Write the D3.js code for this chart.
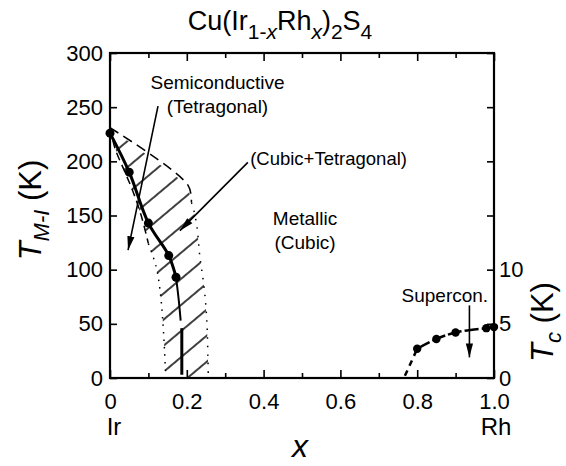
<!DOCTYPE html>
<html>
<head>
<meta charset="utf-8">
<script src="https://cdn.jsdelivr.net/npm/d3@7"></script>
<style>
  html, body { margin: 0; padding: 0; background: #fff; }
  svg text { font-family: Arial, "Liberation Sans", Helvetica, sans-serif; fill: #000; }
</style>
</head>
<body>
<svg id="chart" width="566" height="466"></svg>
<script>
// ---------------- data ----------------
const xMajorTicks = [0, 0.2, 0.4, 0.6, 0.8, 1.0];
const xTickLabels = ["0", "0.2", "0.4", "0.6", "0.8", "1.0"];
const xMinorTicks = [0.1, 0.3, 0.5, 0.7, 0.9];
const tmiTicks = [0, 50, 100, 150, 200, 250, 300];
const tcTicks = [0, 5, 10, 15, 20, 25, 30];
const tcTickLabels = [0, 5, 10];

// Metal-insulator transition temperature T_M-I (K)
const tmiX = [0, 0.05, 0.10, 0.153, 0.172];
const tmiT = [226, 190, 143, 113, 93];
const tmiTailX = [0.172, 0.179, 0.184];
const tmiTailT = [93, 72, 53];
const tmiDropX = [0.187, 0.187];
const tmiDropT = [46, 3];

// superconducting Tc (K)
const tcX = [0.80, 0.85, 0.90, 0.98, 1.00];
const tcT = [2.7, 3.6, 4.2, 4.6, 4.7];
const tcExtX = [0.768, 0.786, 0.80];
const tcExtT = [0.2, 1.6, 2.7];

// two-phase (Cubic+Tetragonal) region boundaries
const leftDashX = [0, 0.013, 0.039, 0.06, 0.082, 0.10];
const leftDashT = [231, 212, 190, 172, 149, 124];
const leftDotX = [0.10, 0.12, 0.13, 0.137, 0.142, 0.145];
const leftDotT = [124, 103, 82, 55, 25, 0];
const topDashX = [0, 0.203, 0.212];
const topDashT = [231, 178, 162];
const rightDotX = [0.212, 0.216, 0.226, 0.234, 0.245, 0.252, 0.255, 0.256];
const rightDotT = [162, 158, 141, 112, 84, 54, 19, 0];

// annotations (data coordinates)
const semiLabel = {x: 0.28, t1: 267, t2: 245};
const semiArrow = {x1: 0.125, t1: 251, x2: 0.047, t2: 118};
const mixLabel = {x: 0.365, t: 197};
const mixArrow = {x1: 0.359, t1: 199, x2: 0.182, t2: 136};
const metLabel = {x: 0.508, t1: 141, t2: 119};
const supLabel = {x: 0.872, tc: 7.0};
const supArrow = {x: 0.936, tc1: 6.7, tc2: 1.9};

// ---------------- scales ----------------
const svg = d3.select("#chart");
const x = d3.scaleLinear().domain([0, 1]).range([110, 494]);
const y = d3.scaleLinear().domain([0, 300]).range([378, 53]);
const yTc = d3.scaleLinear().domain([0, 30]).range([378, 53]);

const defs = svg.append("defs");
defs.append("pattern")
  .attr("id", "hatch")
  .attr("patternUnits", "userSpaceOnUse")
  .attr("width", 40).attr("height", 20)
  .attr("patternTransform", "rotate(-40)")
  .append("line")
  .attr("x1", 0).attr("y1", 10).attr("x2", 40).attr("y2", 10)
  .attr("stroke", "#000").attr("stroke-width", 1.4);

defs.append("marker")
  .attr("id", "arrow")
  .attr("markerUnits", "userSpaceOnUse")
  .attr("viewBox", "0 -4 14 8")
  .attr("refX", 14).attr("refY", 0)
  .attr("markerWidth", 14).attr("markerHeight", 8)
  .attr("orient", "auto")
  .append("path")
  .attr("d", "M0,-3.6L14,0L0,3.6Z")
  .attr("fill", "#000");

// ---------------- hatched region ----------------
const regionPts = [];
leftDashX.forEach((v, i) => regionPts.push([x(v), y(leftDashT[i])]));
leftDotX.forEach((v, i) => { if (i > 0) regionPts.push([x(v), y(leftDotT[i])]); });
for (let j = rightDotX.length - 1; j >= 0; j--) regionPts.push([x(rightDotX[j]), y(rightDotT[j])]);
for (let j = topDashX.length - 1; j >= 0; j--) regionPts.push([x(topDashX[j]), y(topDashT[j])]);
svg.append("path")
  .attr("d", d3.line()(regionPts) + "Z")
  .attr("fill", "url(#hatch)")
  .attr("stroke", "none");

const lineXT = (xs, ts, ys) => d3.line().curve(d3.curveCatmullRom)(xs.map((v, i) => [x(v), ys(ts[i])]));

svg.append("path").attr("d", lineXT(leftDashX, leftDashT, y))
  .attr("fill", "none").attr("stroke", "#000").attr("stroke-width", 1.5).attr("stroke-dasharray", "8,5");
svg.append("path").attr("d", lineXT(leftDotX, leftDotT, y))
  .attr("fill", "none").attr("stroke", "#000").attr("stroke-width", 1.5).attr("stroke-dasharray", "1.5,6");
svg.append("path").attr("d", lineXT(topDashX, topDashT, y))
  .attr("fill", "none").attr("stroke", "#000").attr("stroke-width", 1.5).attr("stroke-dasharray", "10,6");
svg.append("path").attr("d", lineXT(rightDotX, rightDotT, y))
  .attr("fill", "none").attr("stroke", "#000").attr("stroke-width", 1.5).attr("stroke-dasharray", "1.5,7");

// ---------------- T_M-I curve ----------------
svg.append("path").attr("d", lineXT(tmiX, tmiT, y))
  .attr("fill", "none").attr("stroke", "#000").attr("stroke-width", 3);
svg.append("path").attr("d", lineXT(tmiTailX, tmiTailT, y))
  .attr("fill", "none").attr("stroke", "#000").attr("stroke-width", 2);
svg.append("path").attr("d", d3.line()(tmiDropX.map((v, i) => [x(v), y(tmiDropT[i])])))
  .attr("fill", "none").attr("stroke", "#000").attr("stroke-width", 3);
svg.selectAll("circle.tmi").data(tmiX).enter().append("circle")
  .attr("class", "tmi")
  .attr("cx", d => x(d)).attr("cy", (d, i) => y(tmiT[i])).attr("r", 4.5).attr("fill", "#000");

// ---------------- Tc curve ----------------
svg.append("path").attr("d", lineXT(tcExtX, tcExtT, yTc))
  .attr("fill", "none").attr("stroke", "#000").attr("stroke-width", 2.5).attr("stroke-dasharray", "6,5");
svg.append("path").attr("d", lineXT(tcX, tcT, yTc))
  .attr("fill", "none").attr("stroke", "#000").attr("stroke-width", 2.5).attr("stroke-dasharray", "14,3");
svg.selectAll("circle.tc").data(tcX).enter().append("circle")
  .attr("class", "tc")
  .attr("cx", d => x(d)).attr("cy", (d, i) => yTc(tcT[i])).attr("r", 4.2).attr("fill", "#000");

// ---------------- axes ----------------
const axStyle = g => {
  g.select(".domain").remove();
  g.selectAll(".tick line").attr("stroke", "#000").attr("stroke-width", 1.6);
  g.selectAll(".tick text").style("font-size", "22px").attr("fill", "#000");
};

svg.append("g").attr("transform", "translate(0,378)")
  .call(d3.axisBottom(x).tickValues(xMajorTicks).tickSize(-8).tickPadding(15)
    .tickFormat((d, i) => xTickLabels[i]))
  .call(axStyle);
svg.append("g").attr("transform", "translate(0,378)")
  .call(d3.axisBottom(x).tickValues(xMinorTicks).tickSize(-5).tickFormat(""))
  .call(axStyle);
svg.append("g").attr("transform", "translate(0,53)")
  .call(d3.axisTop(x).tickValues(xMajorTicks).tickSize(-8).tickFormat(""))
  .call(axStyle);
svg.append("g").attr("transform", "translate(0,53)")
  .call(d3.axisTop(x).tickValues(xMinorTicks).tickSize(-5).tickFormat(""))
  .call(axStyle);
svg.append("g").attr("transform", "translate(110,0)")
  .call(d3.axisLeft(y).tickValues(tmiTicks).tickSize(-7).tickPadding(7))
  .call(axStyle);
svg.append("g").attr("transform", "translate(494,0)")
  .call(d3.axisRight(yTc).tickValues(tcTicks).tickSize(-7).tickPadding(5)
    .tickFormat(d => tcTickLabels.includes(d) ? String(d) : ""))
  .call(axStyle);

// frame
svg.append("rect")
  .attr("x", x(0)).attr("y", y(300))
  .attr("width", x(1) - x(0)).attr("height", y(0) - y(300))
  .attr("fill", "none").attr("stroke", "#000").attr("stroke-width", 2.2);

// ---------------- annotations ----------------
const arrow = (x1, y1, x2, y2) => svg.append("line")
  .attr("x1", x1).attr("y1", y1).attr("x2", x2).attr("y2", y2)
  .attr("stroke", "#000").attr("stroke-width", 1.6).attr("marker-end", "url(#arrow)");

arrow(x(semiArrow.x1), y(semiArrow.t1), x(semiArrow.x2), y(semiArrow.t2));
arrow(x(mixArrow.x1), y(mixArrow.t1), x(mixArrow.x2), y(mixArrow.t2));
arrow(x(supArrow.x), yTc(supArrow.tc1), x(supArrow.x), yTc(supArrow.tc2));

const label = (txt, px, py, size, anchor) => svg.append("text")
  .attr("x", px).attr("y", py).attr("text-anchor", anchor || "middle")
  .style("font-size", size + "px").text(txt);

label("Semiconductive", x(semiLabel.x), y(semiLabel.t1), 19);
label("(Tetragonal)", x(semiLabel.x), y(semiLabel.t2), 19);
label("(Cubic+Tetragonal)", x(mixLabel.x), y(mixLabel.t), 18.5, "start");
label("Metallic", x(metLabel.x), y(metLabel.t1), 19);
label("(Cubic)", x(metLabel.x), y(metLabel.t2), 19);
label("Supercon.", x(supLabel.x), yTc(supLabel.tc), 19);

label("Ir", x(0) + 4, 435, 24);
label("Rh", x(1) + 2, 435, 24);

// x axis title
svg.append("text").attr("x", 300).attr("y", 457).attr("text-anchor", "middle")
  .style("font-size", "32px").style("font-style", "italic").text("x");

// title
const title = svg.append("text").attr("x", 280).attr("y", 30).attr("text-anchor", "middle")
  .style("font-size", "27px");
title.append("tspan").text("Cu(Ir");
title.append("tspan").attr("dy", 9).style("font-size", "21px").text("1-");
title.append("tspan").style("font-size", "21px").style("font-style", "italic").text("x");
title.append("tspan").attr("dy", -9).text("Rh");
title.append("tspan").attr("dy", 9).style("font-size", "21px").style("font-style", "italic").text("x");
title.append("tspan").attr("dy", -9).text(")");
title.append("tspan").attr("dy", 9).style("font-size", "21px").text("2");
title.append("tspan").attr("dy", -9).text("S");
title.append("tspan").attr("dy", 9).style("font-size", "21px").text("4");

// left y title
const yl = svg.append("text").attr("transform", "translate(41,210) rotate(-90)")
  .attr("text-anchor", "middle").style("font-size", "31px");
yl.append("tspan").style("font-style", "italic").text("T");
yl.append("tspan").attr("dy", 8).style("font-size", "22px").style("font-style", "italic").text("M-I");
yl.append("tspan").attr("dy", -8).text(" (K)");

// right y title
const yr = svg.append("text").attr("transform", "translate(553,322) rotate(-90)")
  .attr("text-anchor", "middle").style("font-size", "31px");
yr.append("tspan").style("font-style", "italic").text("T");
yr.append("tspan").attr("dy", 8).style("font-size", "22px").style("font-style", "italic").text("c");
yr.append("tspan").attr("dy", -8).text(" (K)");
</script>
</body>
</html>
